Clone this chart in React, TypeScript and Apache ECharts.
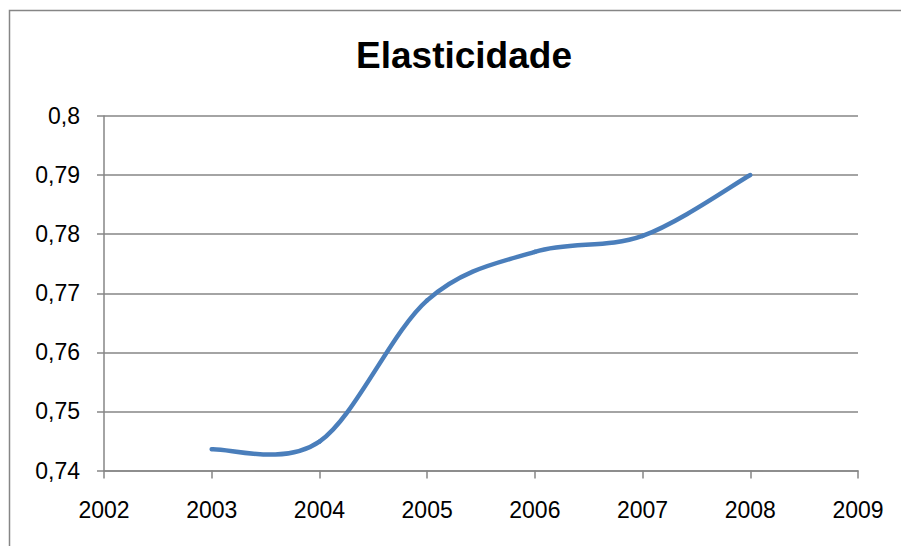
import { useEffect, useRef } from "react";
import * as echarts from "echarts";

// Yearly elasticity estimates
const years = [2003, 2004, 2005, 2006, 2007, 2008];
const elasticity = [0.7436, 0.7449, 0.7688, 0.777, 0.7797, 0.79];
const chartTitle = "Elasticidade";

const GREY = "#868686";
const BLUE = "#4A7EBB";
const FONT = "'Liberation Sans', Arial, sans-serif";

const fmtYear = (v: number) => String(v);
const fmtDecimal = (v: number) => String(parseFloat(v.toFixed(2))).replace(".", ",");

export default function App() {
  const ref = useRef<HTMLDivElement>(null);

  useEffect(() => {
    const chart = echarts.init(ref.current!, null, { renderer: "svg" });
    const n = years.length;
    const at = (k: number) => {
      const j = Math.max(0, Math.min(n - 1, k));
      return [years[j], elasticity[j]];
    };

    chart.setOption({
      animation: false,
      backgroundColor: "#ffffff",
      title: {
        text: chartTitle,
        left: 459,
        top: 32,
        textAlign: "center",
        textStyle: { fontFamily: FONT, fontWeight: "bold", fontSize: 37, color: "#000" },
      },
      graphic: [
        {
          type: "rect",
          silent: true,
          shape: { x: 9.5, y: 10.5, width: 1000, height: 1000 },
          style: { fill: "none", stroke: GREY, lineWidth: 1.5 },
        },
      ],
      grid: { left: 104, top: 116, width: 754, height: 354.5 },
      xAxis: {
        type: "value",
        min: 2002,
        max: 2009,
        interval: 1,
        axisLine: { show: true, lineStyle: { color: GREY, width: 1.5 } },
        axisTick: { show: true, length: 8, lineStyle: { color: GREY, width: 1.5 } },
        splitLine: { show: false },
        axisLabel: { margin: 28, formatter: fmtYear, color: "#000", fontSize: 23, fontFamily: FONT },
      },
      yAxis: {
        type: "value",
        min: 0.74,
        max: 0.8,
        interval: 0.01,
        axisLine: { show: true, lineStyle: { color: GREY, width: 1.5 } },
        axisTick: { show: true, length: 7, lineStyle: { color: GREY, width: 1.5 } },
        splitLine: { show: true, lineStyle: { color: GREY, width: 1.5 } },
        axisLabel: { margin: 24, formatter: fmtDecimal, color: "#000", fontSize: 23, fontFamily: FONT },
      },
      series: [
        {
          type: "custom",
          coordinateSystem: "cartesian2d",
          encode: { x: 0, y: 1 },
          data: years.map((y, i) => [y, elasticity[i]]),
          // smoothed segment between consecutive years (Catmull-Rom style control points)
          renderItem: (params: any, api: any) => {
            const i = params.dataIndex;
            if (i >= n - 1) return null;
            const c = (k: number) => api.coord(at(k));
            const p0 = c(i - 1);
            const p1 = c(i);
            const p2 = c(i + 1);
            const p3 = c(i + 2);
            return {
              type: "bezierCurve",
              shape: {
                x1: p1[0],
                y1: p1[1],
                x2: p2[0],
                y2: p2[1],
                cpx1: p1[0] + (p2[0] - p0[0]) / 6,
                cpy1: p1[1] + (p2[1] - p0[1]) / 6,
                cpx2: p2[0] - (p3[0] - p1[0]) / 6,
                cpy2: p2[1] - (p3[1] - p1[1]) / 6,
              },
              style: { fill: null, stroke: BLUE, lineWidth: 4.5, lineCap: "round" },
            };
          },
        },
      ],
    });

    return () => chart.dispose();
  }, []);

  return (
    <div
      ref={ref}
      style={{ position: "absolute", left: 0, top: 0, width: 901, height: 546 }}
    />
  );
}
